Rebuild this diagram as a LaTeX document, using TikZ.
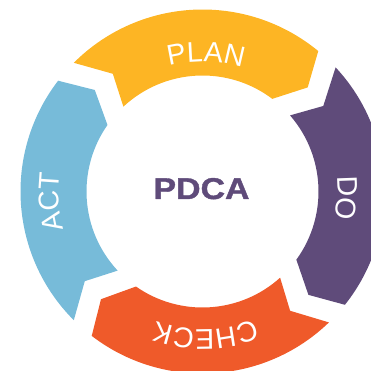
\documentclass[tikz,border=0pt]{standalone}
\usepackage{fontspec}
\setmainfont{Liberation Sans}
\newfontfamily\titlefont[FakeBold=1.2]{Liberation Sans Bold}
\usetikzlibrary{decorations.text}
\definecolor{planY}{HTML}{FDB524}
\definecolor{doP}{HTML}{5F4B7A}
\definecolor{checkO}{HTML}{EF5A2A}
\definecolor{actB}{HTML}{77BBD9}
\newcommand\lblfont{\fontsize{28.5}{28.5}\selectfont}
\begin{document}
\begin{tikzpicture}[x=1pt,y=1pt,
  arclabel/.style={decorate, decoration={text along path, text align=center,
      text={|\lblfont\color{white}|#1}}}]
\useasboundingbox (-202.5,-179.5) rectangle (168.5,191.5);
\def\Ro{182pt}\def\Ri{116pt}\def\Rm{148pt}
% ring segments: tail notch at gap \gt, arrow tip at gap \gh (clockwise flow)
\foreach \gt/\gh/\col in {132/40/planY,40/-49/doP,-49/-138/checkO,222/132/actB}{
  \fill[\col] ({\gt+3}:\Ro) arc[start angle=\gt+3, end angle=\gh+10.5, radius=\Ro]
    -- ({\gh+4.7}:\Rm) -- ({\gh+13}:\Ri)
    arc[start angle=\gh+13, end angle=\gt+1, radius=\Ri]
    -- ({\gt-4.7}:\Rm) -- cycle;
}
% curved labels
\path[arclabel=PLAN] (128.6:130pt) arc[start angle=128.6, end angle=48.6, radius=130pt];
\path[arclabel=DO] (37.4:135pt) arc[start angle=37.4, end angle=-42.6, radius=135pt];
\path[arclabel=CHECK] (-48.8:138pt) arc[start angle=-48.8, end angle=-128.8, radius=138pt];
\path[arclabel=ACT] (224:143.5pt) arc[start angle=224, end angle=144, radius=143.5pt];
% centre title
\node[anchor=base, text=doP, font=\titlefont\fontsize{30}{30}\selectfont, xscale=1.13, inner sep=0]
  (title) at (-1,-7.5) {PDCA};
\end{tikzpicture}
\end{document}
